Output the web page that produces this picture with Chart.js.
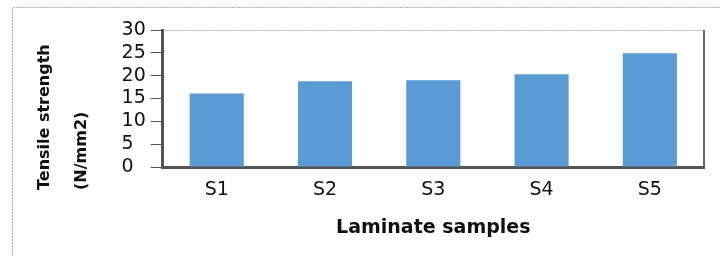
<!DOCTYPE html>
<html lang="en">
<head>
    <meta charset="UTF-8">
    <title>Tensile strength</title>
    <style>
        body { margin: 0; background: #fff; }
        #wrap { width: 720px; height: 256px; }
    </style>
</head>
<body>
    <div id="wrap">
        <canvas id="tensileChart" width="720" height="256"></canvas>
    </div>

    <script src="https://cdn.jsdelivr.net/npm/chart.js"></script>
    <script>
        const samples = ['S1', 'S2', 'S3', 'S4', 'S5'];
        const strength = [16.1, 18.8, 19.0, 20.3, 24.9];
        const yTitle = ['Tensile strength', '(N/mm2)'];
        const xTitle = 'Laminate samples';

        // dashed frame round the figure + plot area edges
        const frames = {
            id: 'frames',
            beforeDraw(chart) {
                const ctx = chart.ctx;
                const a = chart.chartArea;
                ctx.save();
                ctx.strokeStyle = '#b0b0b0';
                ctx.lineWidth = 1;
                ctx.setLineDash([2, 1]);
                ctx.beginPath();
                ctx.moveTo(12.5, 256);
                ctx.lineTo(12.5, 7.5);
                ctx.lineTo(720, 7.5);
                ctx.stroke();

                ctx.beginPath();
                ctx.moveTo(a.left, a.top + 0.5);
                ctx.lineTo(a.right, a.top + 0.5);
                ctx.stroke();

                ctx.setLineDash([]);
                ctx.strokeStyle = '#6a6a6a';
                ctx.lineWidth = 2;
                ctx.beginPath();
                ctx.moveTo(a.right, a.top);
                ctx.lineTo(a.right, a.bottom);
                ctx.stroke();
                ctx.restore();
            }
        };

        const config = {
            type: 'bar',
            data: {
                labels: samples,
                datasets: [{
                    label: 'Tensile strength',
                    data: strength,
                    backgroundColor: '#5b9bd5',
                    categoryPercentage: 1,
                    barPercentage: 0.5
                }]
            },
            options: {
                responsive: false,
                animation: false,
                layout: { padding: { left: 12, top: 30, right: 16, bottom: 66 } },
                plugins: {
                    legend: { display: false },
                    tooltip: { enabled: false },
                    title: {
                        display: true,
                        position: 'left',
                        align: 'start',
                        text: yTitle,
                        color: '#111',
                        font: { family: 'DejaVu Sans', size: 16, weight: 'bold', lineHeight: 2.3 },
                        padding: { top: 14.5, bottom: 21.5 }
                    }
                },
                scales: {
                    x: {
                        grid: { display: true, drawOnChartArea: false, drawTicks: false, color: '#555' },
                        border: { color: '#555', width: 3 },
                        ticks: { color: '#111', padding: 12, font: { family: 'DejaVu Sans', size: 19 } },
                        title: {
                            display: true,
                            text: xTitle,
                            color: '#111',
                            font: { family: 'DejaVu Sans', size: 19, weight: 'bold' },
                            padding: { top: 0, bottom: -49 }
                        },
                        afterFit(scale) { scale.height = 23; },
                        // labels sit below the short axis box, so don't clip them to it
                        afterUpdate(scale) { scale._computeLabelArea = () => undefined; }
                    },
                    y: {
                        min: 0,
                        max: 30,
                        grid: { drawOnChartArea: false, tickLength: 12, color: '#555' },
                        border: { color: '#555', width: 3 },
                        ticks: { stepSize: 5, autoSkip: false, crossAlign: 'far', color: '#111', font: { family: 'DejaVu Sans', size: 19 } },
                        afterFit(scale) { scale.width = 41; }
                    }
                }
            },
            plugins: [frames]
        };

        new Chart(document.getElementById('tensileChart'), config);
    </script>
</body>
</html>
